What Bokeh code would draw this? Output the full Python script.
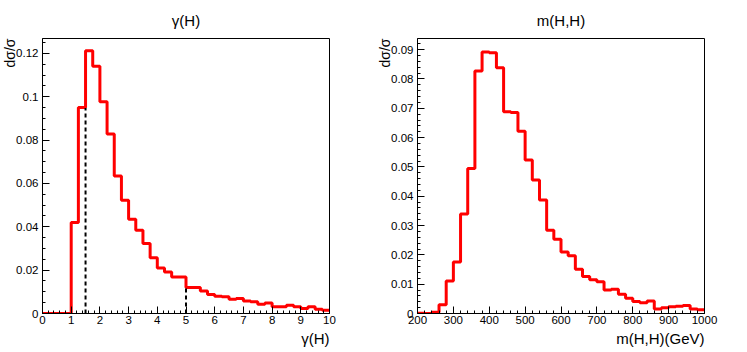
import numpy as np
from bokeh.plotting import figure
from bokeh.layouts import row
from bokeh.models import SingleIntervalTicker, CustomJSTickFormatter, Range1d, Title
from bokeh.embed import file_html
from bokeh.resources import INLINE

# ---------------- data ----------------
# gamma(H): 40 bins from 0 to 10 (width 0.25)
gamma_lo, gamma_hi, gamma_nbins = 0.0, 10.0, 40
gamma_vals = [0.0, 0.0, 0.0, 0.0,
              0.0420, 0.0951, 0.1212, 0.1141, 0.0977, 0.0828, 0.0635, 0.0523,
              0.0435, 0.0384, 0.0323, 0.0257, 0.0210, 0.0192, 0.0168, 0.0169,
              0.0120, 0.0120, 0.0104, 0.0088, 0.0080, 0.0077, 0.0066, 0.0069,
              0.0058, 0.0054, 0.0043, 0.0049, 0.0031, 0.0031, 0.0038, 0.0031,
              0.0023, 0.0031, 0.0020, 0.0015]
gamma_cut_x = [1.5, 5.0]
gamma_cut_top = [0.0948, 0.0118]

# m(H,H): 40 bins from 200 to 1000 GeV (width 20)
mhh_lo, mhh_hi, mhh_nbins = 200.0, 1000.0, 40
mhh_vals = [0.0001, 0.0000, 0.0004, 0.0030, 0.0111, 0.0176, 0.0339, 0.0495,
            0.0827, 0.0892, 0.0889, 0.0838, 0.0688, 0.0686, 0.0622, 0.0524,
            0.0455, 0.0387, 0.0284, 0.0253, 0.0210, 0.0197, 0.0151, 0.0126,
            0.0115, 0.0108, 0.0080, 0.0083, 0.0066, 0.0052, 0.0041, 0.0037,
            0.0043, 0.0015, 0.0020, 0.0023, 0.0025, 0.0027, 0.0015, 0.0013]

FONT = "Liberation Sans"
RED = "#ff0000"

fmt_code = "return String(parseFloat(tick.toFixed(6)));"


def make_panel(title, xlabel, xr, yr, xint, xminor, yint, yminor, bl, br):
    p = figure(frame_width=287, frame_height=275,
               min_border_left=bl, min_border_right=br,
               min_border_top=38, min_border_bottom=39,
               x_range=Range1d(*xr), y_range=Range1d(*yr),
               output_backend="svg", toolbar_location=None,
               title=title)
    p.title.text_font = FONT
    p.title.text_font_size = "15px"
    p.title.text_font_style = "normal"
    p.title.text_color = "black"
    p.title.align = "center"
    p.title.standoff = 19
    p.xgrid.visible = False
    p.ygrid.visible = False
    p.outline_line_color = "black"
    p.outline_line_alpha = 1.0
    p.outline_line_width = 1
    p.background_fill_color = "white"
    p.border_fill_color = "white"
    p.xaxis.ticker = SingleIntervalTicker(interval=xint, num_minor_ticks=xminor)
    p.yaxis.ticker = SingleIntervalTicker(interval=yint, num_minor_ticks=yminor)
    for ax in (p.xaxis, p.yaxis):
        ax.formatter = CustomJSTickFormatter(code=fmt_code)
        ax.axis_line_color = "black"
        ax.major_tick_line_color = "black"
        ax.minor_tick_line_color = "black"
        ax.major_tick_in = 7
        ax.major_tick_out = 0
        ax.minor_tick_in = 3
        ax.minor_tick_out = 0
        ax.major_label_text_font = FONT
        ax.major_label_text_font_size = "11.5px"
        ax.major_label_text_color = "black"
    p.xaxis.major_label_standoff = 2
    p.yaxis.major_label_standoff = 4
    # x-axis label, right aligned under the axis
    p.add_layout(Title(text=xlabel, align="right", text_font=FONT,
                       text_font_size="15px", text_font_style="normal",
                       text_color="black", standoff=3), "below")
    # y-axis label, at the top of the axis
    p.add_layout(Title(text="dσ/σ", align="right", text_font=FONT,
                       text_font_size="14px", text_font_style="normal",
                       text_color="black", standoff=-9), "left")
    return p


# ---------------- left panel: gamma(H) ----------------
g_edges = np.linspace(gamma_lo, gamma_hi, gamma_nbins + 1)
p1 = make_panel("γ(H)", "γ(H)", (0, 10), (0, 0.1269), 1, 5, 0.02, 4, 42, 40)
p1.step(x=g_edges, y=np.append(gamma_vals, gamma_vals[-1]), mode="after",
        line_color=RED, line_width=3)
p1.segment(x0=gamma_cut_x, y0=[0, 0], x1=gamma_cut_x, y1=gamma_cut_top,
           line_color="black", line_width=2, line_dash="4 3")

# ---------------- right panel: m(H,H) ----------------
m_edges = np.linspace(mhh_lo, mhh_hi, mhh_nbins + 1)
p2 = make_panel("m(H,H)", "m(H,H)(GeV)", (200, 1000), (0, 0.0938), 100, 5,
                0.01, 5, 48, 20)
p2.step(x=m_edges, y=np.append(mhh_vals, mhh_vals[-1]), mode="after",
        line_color=RED, line_width=3)

layout = row(p1, p2)
open("out.html", "w").write(file_html(layout, INLINE))
